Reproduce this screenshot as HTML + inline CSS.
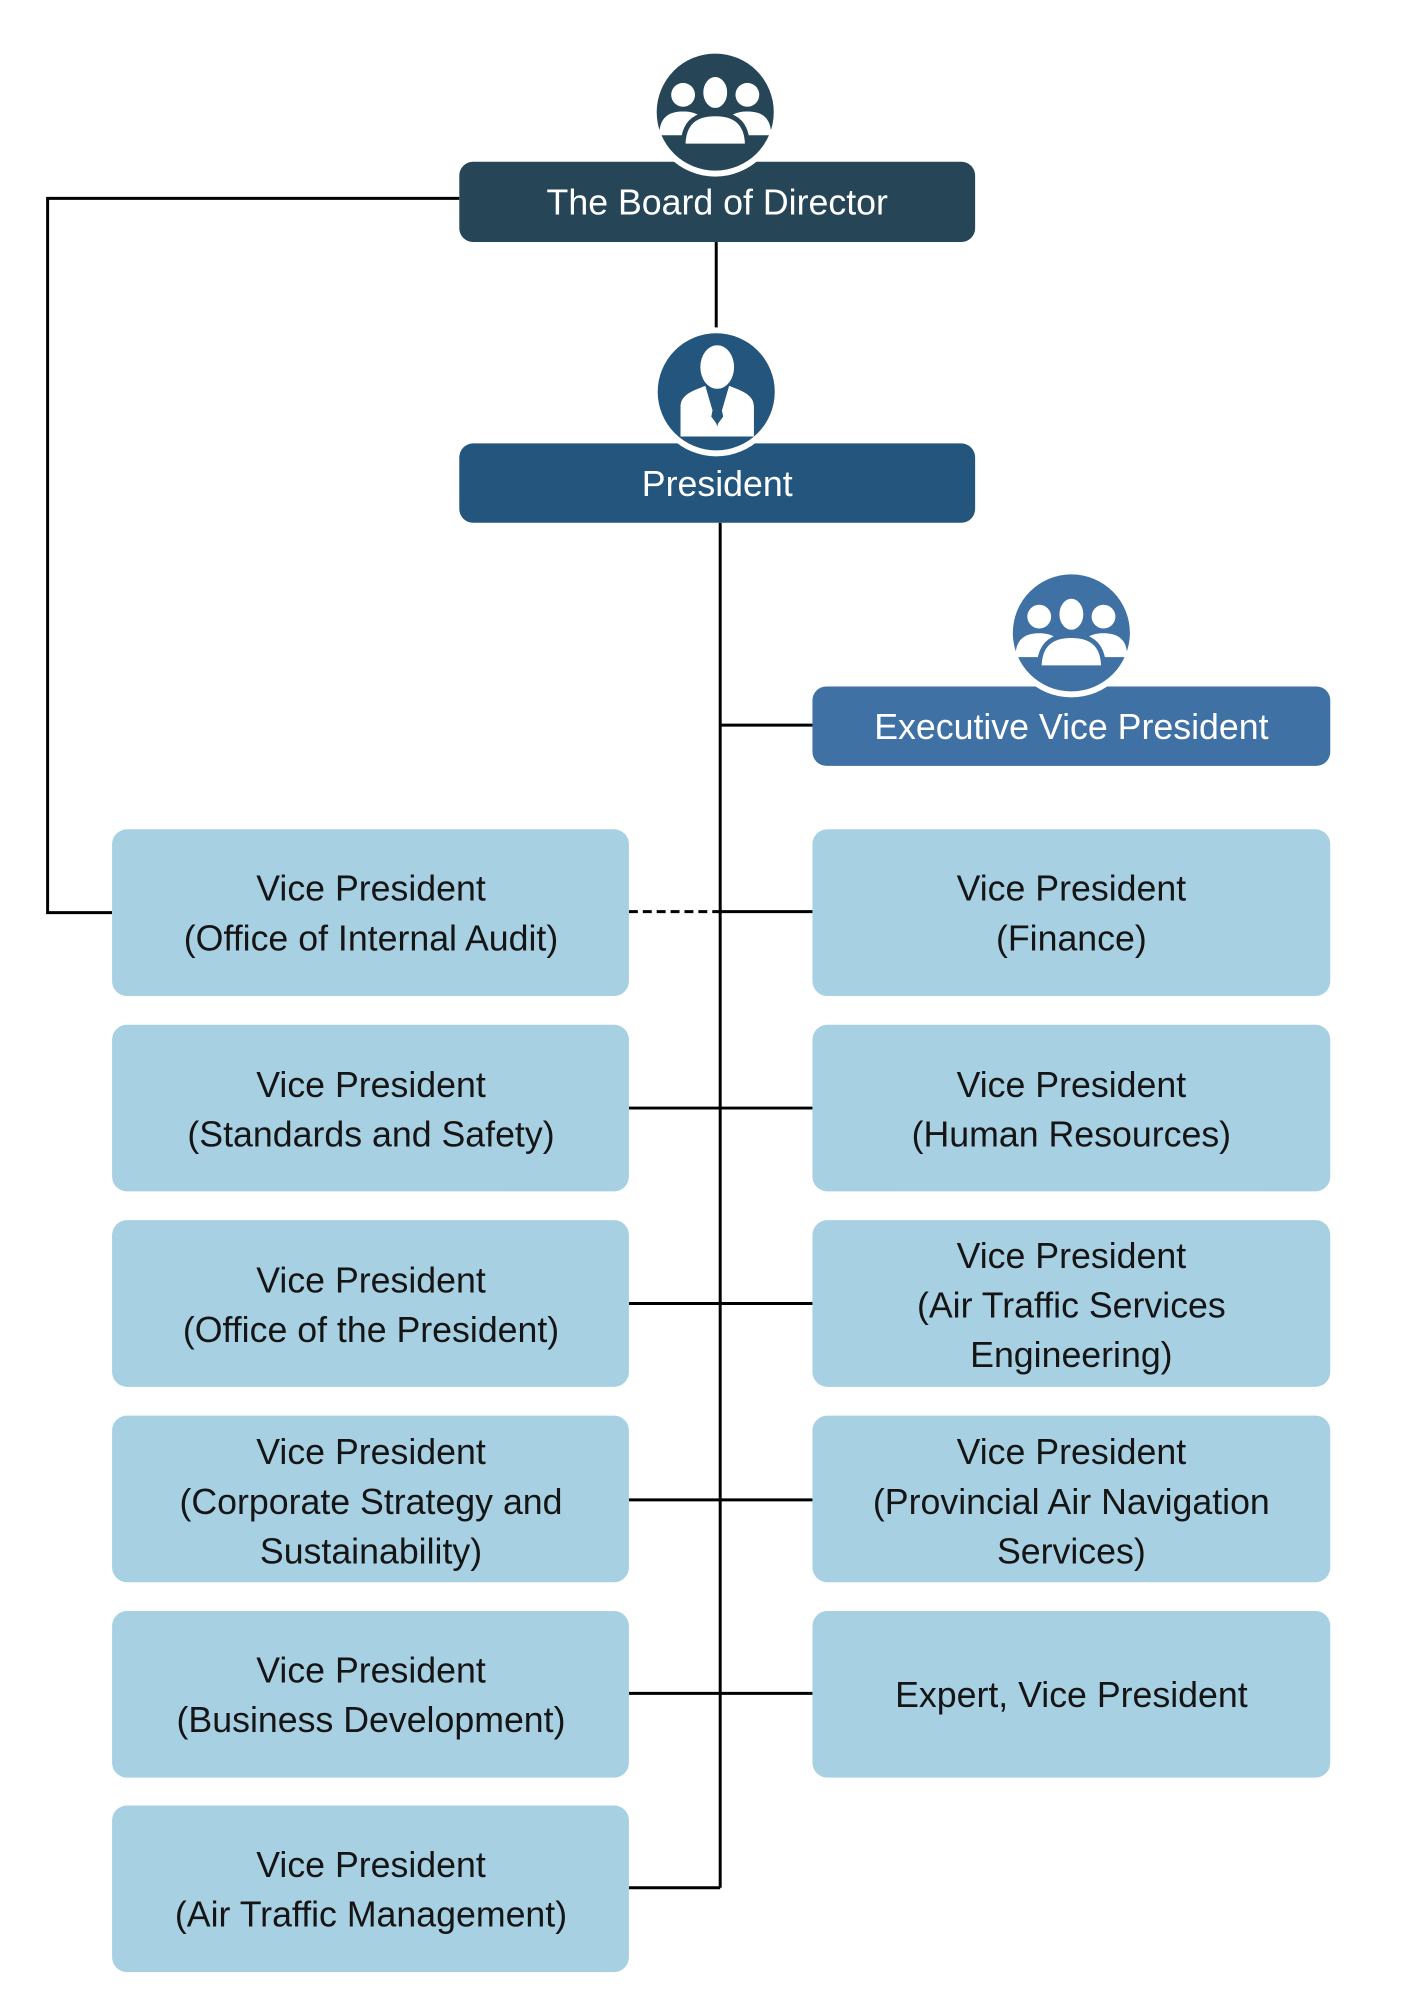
<!DOCTYPE html>
<html><head><meta charset="utf-8"><style>
html,body{margin:0;padding:0;background:#fff}
svg{display:block}
text{font-family:"Liberation Sans",sans-serif;font-size:36px;text-anchor:middle}
.d{fill:#151515}
.w{fill:#fff}
</style></head><body>
<svg width="1414" height="2000" viewBox="0 0 1414 2000" xmlns="http://www.w3.org/2000/svg">
<defs>
<g id="grp">
  <circle cx="-27" cy="-12" r="10" fill="#fff"/>
  <path d="M-47 22 C-47 6 -38 2 -27 2 C-16 2 -7 6 -7 22 Z" fill="#fff"/>
  <circle cx="27" cy="-12" r="10" fill="#fff"/>
  <path d="M7 22 C7 6 16 2 27 2 C38 2 47 6 47 22 Z" fill="#fff"/>
  <ellipse cx="0" cy="-14" rx="12" ry="15" fill="#fff" stroke="currentColor" stroke-width="4"/>
  <path d="M-27 31 C-27 10 -15 4 0 4 C15 4 27 10 27 31 Z" fill="#fff" stroke="currentColor" stroke-width="4"/>
</g>
</defs>
<g transform="scale(0.992)">
<g stroke="#000" stroke-width="3" fill="none">
  <polyline points="463,200 48,200 48,920 113,920"/>
  <line x1="722" y1="244" x2="722" y2="340"/>
  <line x1="726" y1="527" x2="726" y2="1903"/>
  <line x1="726" y1="731" x2="819" y2="731"/>
  <line x1="634" y1="919" x2="726" y2="919" stroke-dasharray="9,5"/>
  <line x1="726" y1="919" x2="819" y2="919"/>
  <line x1="634" y1="1117" x2="819" y2="1117"/>
  <line x1="634" y1="1314" x2="819" y2="1314"/>
  <line x1="634" y1="1512" x2="819" y2="1512"/>
  <line x1="634" y1="1707" x2="819" y2="1707"/>
  <line x1="634" y1="1903" x2="726" y2="1903"/>
</g>
<rect x="463" y="163" width="520" height="81" rx="14" fill="#264658"/>
<circle cx="721" cy="113" r="65" fill="#fff"/>
<circle cx="721" cy="113" r="59" fill="#264658"/>
<g transform="translate(721,110) scale(1.2)" color="#264658"><use href="#grp"/></g>
<text x="723" y="216" class="w">The Board of Director</text>
<rect x="463" y="447" width="520" height="80" rx="14" fill="#24567d"/>
<circle cx="722" cy="395" r="65" fill="#fff"/>
<circle cx="722" cy="395" r="59" fill="#24567d"/>
<g fill="#fff">
  <ellipse cx="723" cy="370" rx="17" ry="22"/>
  <path d="M686 440 L686 410 C686 398 698 394 711 389 L723 430 L735 389 C748 394 760 398 760 410 L760 440 Z"/>
</g>
<path d="M719 392 L727 392 L725 400 L729 420 L723 428 L717 420 L721 400 Z" fill="#24567d"/>
<text x="723" y="500" class="w">President</text>
<rect x="819" y="692" width="522" height="80" rx="14" fill="#3f71a5"/>
<circle cx="1080" cy="638" r="65" fill="#fff"/>
<circle cx="1080" cy="638" r="59" fill="#3f71a5"/>
<g transform="translate(1080,636) scale(1.2)" color="#3f71a5"><use href="#grp"/></g>
<text x="1080" y="745" class="w">Executive Vice President</text>
<g fill="#a8d0e3">
  <rect x="113" y="836" width="521" height="168" rx="15"/>
  <rect x="113" y="1033" width="521" height="168" rx="15"/>
  <rect x="113" y="1230" width="521" height="168" rx="15"/>
  <rect x="113" y="1427" width="521" height="168" rx="15"/>
  <rect x="113" y="1624" width="521" height="168" rx="15"/>
  <rect x="113" y="1820" width="521" height="168" rx="15"/>
  <rect x="819" y="836" width="522" height="168" rx="15"/>
  <rect x="819" y="1033" width="522" height="168" rx="15"/>
  <rect x="819" y="1230" width="522" height="168" rx="15"/>
  <rect x="819" y="1427" width="522" height="168" rx="15"/>
  <rect x="819" y="1624" width="522" height="168" rx="15"/>
</g>
<g transform="translate(0,2)">
<text x="374" y="906" class="d">Vice President</text>
<text x="374" y="956" class="d">(Office of Internal Audit)</text>
<text x="374" y="1104" class="d">Vice President</text>
<text x="374" y="1154" class="d">(Standards and Safety)</text>
<text x="374" y="1301" class="d">Vice President</text>
<text x="374" y="1351" class="d">(Office of the President)</text>
<text x="374" y="1474" class="d">Vice President</text>
<text x="374" y="1524" class="d">(Corporate Strategy and</text>
<text x="374" y="1574" class="d">Sustainability)</text>
<text x="374" y="1694" class="d">Vice President</text>
<text x="374" y="1744" class="d">(Business Development)</text>
<text x="374" y="1890" class="d">Vice President</text>
<text x="374" y="1940" class="d">(Air Traffic Management)</text>
<text x="1080" y="906" class="d">Vice President</text>
<text x="1080" y="956" class="d">(Finance)</text>
<text x="1080" y="1104" class="d">Vice President</text>
<text x="1080" y="1154" class="d">(Human Resources)</text>
<text x="1080" y="1276" class="d">Vice President</text>
<text x="1080" y="1326" class="d">(Air Traffic Services</text>
<text x="1080" y="1376" class="d">Engineering)</text>
<text x="1080" y="1474" class="d">Vice President</text>
<text x="1080" y="1524" class="d">(Provincial Air Navigation</text>
<text x="1080" y="1574" class="d">Services)</text>
<text x="1080" y="1719" class="d">Expert, Vice President</text>
</g>
</g>
</svg>
</body></html>
